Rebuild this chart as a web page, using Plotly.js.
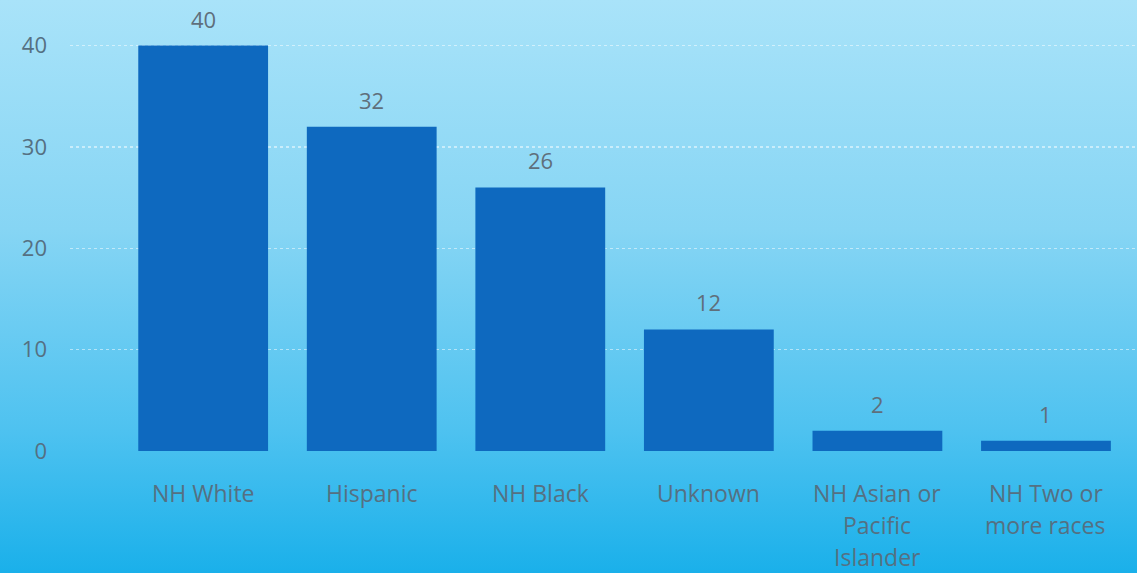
<!DOCTYPE html>
<html>
<head>
<meta charset="utf-8">
<script src="https://cdn.plot.ly/plotly-3.0.1.min.js"></script>
<style>
  html, body { margin: 0; padding: 0; }
  body { width: 1137px; height: 573px; background: linear-gradient(to bottom, #a9e3f9 0%, #86d5f4 40%, #4ec2f0 75%, #1ab0ea 100%); overflow: hidden; }
  #chart { width: 1137px; height: 573px; }
</style>
</head>
<body>
<div id="chart"></div>
<script>
const categories = ["NH White", "Hispanic", "NH Black", "Unknown", "NH Asian or Pacific Islander", "NH Two or more races"];
const labelLines = [["NH White"], ["Hispanic"], ["NH Black"], ["Unknown"], ["NH Asian or", "Pacific", "Islander"], ["NH Two or", "more races"]];
const values = [40, 32, 26, 12, 2, 1];
const yTicks = [0, 10, 20, 30, 40];

const textColor = "#557082";
const fontFam = "'Open Sans', 'Noto Sans', sans-serif";

const annotations = [];
categories.forEach((c, i) => {
  annotations.push({
    x: i, y: values[i], xref: "x", yref: "y", text: String(values[i]),
    showarrow: false, yshift: 27, font: {family: fontFam, size: 22, color: "#5f6f7b"}
  });
  labelLines[i].forEach((line, j) => {
    annotations.push({
      x: i, y: 0, xref: "x", yref: "y", text: line, showarrow: false,
      yshift: -42 - 32 * j, font: {family: fontFam, size: 23, color: textColor}
    });
  });
});

const trace = {
  type: "bar", x: categories.map((c, i) => i), y: values,
  marker: {color: "#0e69bf"}, hoverinfo: "x+y"
};

const layout = {
  width: 1137, height: 573,
  margin: {l: 70, r: 0, t: 0, b: 122},
  paper_bgcolor: "rgba(0,0,0,0)", plot_bgcolor: "rgba(0,0,0,0)",
  bargap: 0.23,
  showlegend: false,
  xaxis: {range: [-0.79, 5.54], showticklabels: false, showgrid: false, zeroline: false, showline: false, ticks: ""},
  yaxis: {
    range: [0, 44.5], tickvals: yTicks, ticktext: yTicks.map(String),
    showgrid: true, gridcolor: "rgba(255,255,255,0.5)", griddash: "dot", gridwidth: 1.5,
    zeroline: false, showline: false, ticks: "", ticklabelstandoff: 22,
    tickfont: {family: fontFam, size: 22, color: textColor}
  },
  annotations: annotations
};

Plotly.newPlot("chart", [trace], layout, {displayModeBar: false, staticPlot: true});
</script>
</body>
</html>
